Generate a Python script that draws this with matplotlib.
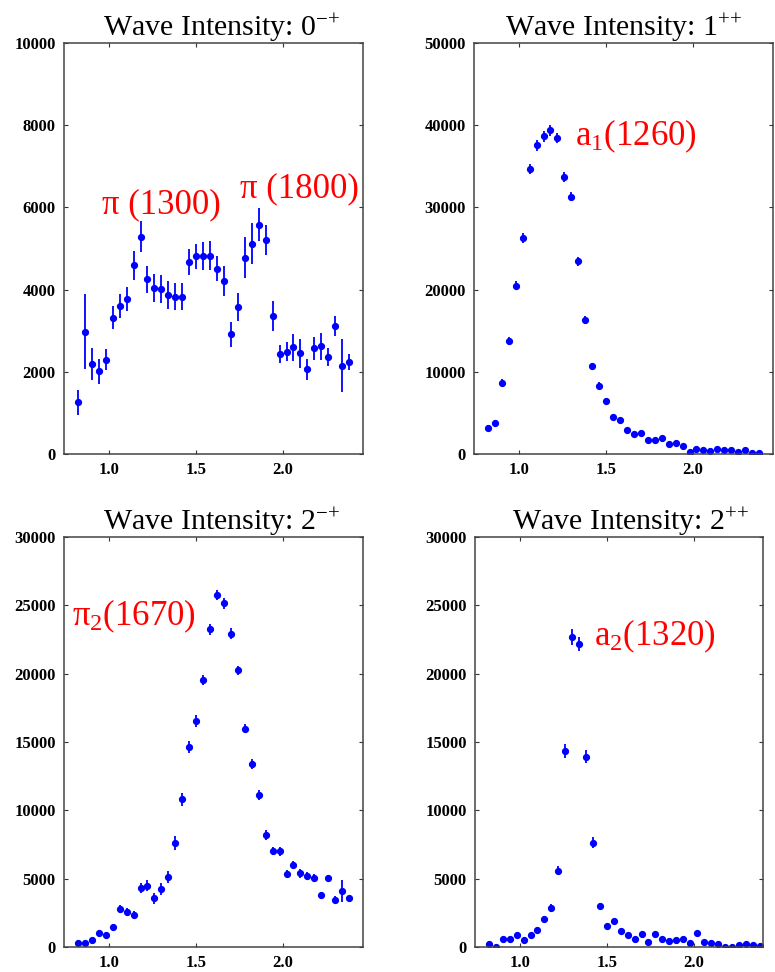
import matplotlib as mpl
mpl.use('Agg')
from matplotlib import pyplot as plt

mpl.rcParams['font.family'] = ['Liberation Serif', 'DejaVu Serif']
mpl.rcParams['mathtext.default'] = 'regular'

# bin centres (GeV)
mass = [0.82, 0.86, 0.90, 0.94, 0.98, 1.02, 1.06, 1.10, 1.14, 1.18,
        1.22, 1.26, 1.30, 1.34, 1.38, 1.42, 1.46, 1.50, 1.54, 1.58,
        1.62, 1.66, 1.70, 1.74, 1.78, 1.82, 1.86, 1.90, 1.94, 1.98,
        2.02, 2.06, 2.10, 2.14, 2.18, 2.22, 2.26, 2.30, 2.34, 2.38]

# 0-+
int_0mp = [1260, 2980, 2190, 2010, 2300, 3320, 3600, 3770, 4590, 5290,
           4250, 4040, 4020, 3870, 3830, 3830, 4680, 4810, 4810, 4830,
           4510, 4210, 2910, 3570, 4780, 5120, 5580, 5210, 3360, 2430,
           2490, 2600, 2450, 2060, 2570, 2620, 2360, 3110, 2150, 2240]
err_0mp = [310, 910, 400, 310, 250, 275, 300, 290, 345, 385,
           330, 345, 345, 345, 325, 320, 320, 310, 340, 360,
           305, 365, 310, 340, 500, 505, 395, 370, 370, 220,
           235, 325, 345, 260, 270, 325, 230, 245, 640, 205]

# 1++
int_1pp = [3130, 3740, 8660, 13740, 20450, 26300, 34670, 37560, 38660, 39390,
           38410, 33740, 31300, 23450, 16300, 10650, 8330, 6420, 4510, 4110,
           2930, 2480, 2600, 1670, 1670, 1950, 1220, 1340, 1020, 200,
           610, 490, 410, 610, 530, 490, 240, 490, 160, 160]
err_1pp = [350, 400, 450, 500, 550, 600, 650, 700, 700, 650,
           600, 600, 550, 550, 500, 450, 400, 350, 300, 300,
           250, 250, 250, 200, 200, 200, 200, 200, 200, 150,
           150, 150, 150, 150, 150, 150, 150, 150, 150, 150]

# 2-+
int_2mp = [270, 320, 540, 1050, 900, 1440, 2780, 2560, 2370, 4320,
           4490, 3560, 4240, 5120, 7630, 10800, 14630, 16540, 19540, 23240,
           25760, 25150, 22930, 20240, 15980, 13410, 11120, 8200, 7000, 7000,
           5320, 6020, 5390, 5200, 5050, 3780, 5050, 3460, 4120, 3560]
err_2mp = [150, 150, 150, 200, 200, 250, 300, 300, 300, 400,
           400, 400, 450, 450, 500, 500, 450, 450, 400, 400,
           400, 400, 400, 350, 350, 350, 350, 350, 300, 350,
           300, 300, 350, 300, 300, 250, 250, 250, 800, 200]

# 2++
int_2pp = [220, 30, 590, 590, 900, 510, 900, 1220, 2050, 2880,
           5590, 14320, 22680, 22170, 13930, 7630, 3000, 1540, 1900, 1170,
           850, 590, 950, 390, 950, 590, 460, 510, 590, 320,
           1020, 390, 320, 200, 30, 30, 150, 200, 150, 70]
err_2pp = [100, 100, 150, 150, 150, 150, 150, 200, 250, 300,
           350, 500, 600, 500, 450, 400, 200, 150, 150, 150,
           150, 150, 150, 150, 150, 150, 150, 150, 150, 100,
           100, 100, 100, 100, 100, 100, 100, 100, 100, 100]

titles = [r'Wave Intensity: 0$^{-{+}}$', r'Wave Intensity: 1$^{+{+}}$',
          r'Wave Intensity: 2$^{-{+}}$', r'Wave Intensity: 2$^{+{+}}$']
title_x = [0.527, 0.5, 0.527, 0.54]
ymax = [10000, 50000, 30000, 30000]
ystep = [2000, 10000, 5000, 5000]
xmax = [2.46, 2.46, 2.46, 2.40]

# [left, bottom, width, height] in figure fraction
boxes = [[0.0826, 0.5329, 0.3858, 0.4228],
         [0.6116, 0.5329, 0.3858, 0.4228],
         [0.0826, 0.0257, 0.3858, 0.4218],
         [0.6129, 0.0257, 0.3716, 0.4218]]

# resonance labels: (text, x, y) in data coords
labels = [[('π (1300)', 0.96, 5860), ('π (1800)', 1.75, 6250)],
          [(r'a$_1$(1260)', 1.32, 37560)],
          [(r'π$_2$(1670)', 0.786, 23560)],
          [(r'a$_2$(1320)', 1.425, 22090)]]

data = [(int_0mp, err_0mp), (int_1pp, err_1pp), (int_2mp, err_2mp), (int_2pp, err_2pp)]

fig = plt.figure(figsize=(7.75, 9.72), dpi=100)

for i in range(4):
    ax = fig.add_axes(boxes[i])
    vals, errs = data[i]
    ax.errorbar(mass, vals, yerr=errs, fmt='o', color='blue', ms=4.2,
                elinewidth=1.3, capsize=0)
    ax.set_xlim(0.74, xmax[i])
    ax.set_ylim(0, ymax[i])
    ax.set_xticks([1.0, 1.5, 2.0])
    ax.set_xticklabels(['1.0', '1.5', '2.0'])
    ax.set_yticks(list(range(0, ymax[i] + 1, ystep[i])))
    ax.tick_params(direction='in', top=True, right=True, length=3, width=0.8,
                   labelsize=12, pad=6, colors='#333333', labelcolor='black')
    for lab in ax.get_xticklabels() + ax.get_yticklabels():
        lab.set_fontweight('bold')
    for sp in ax.spines.values():
        sp.set_color('#444444')
        sp.set_linewidth(1.1)
    ax.set_title(titles[i], fontsize=21.5, pad=5, x=title_x[i])
    for txt, x, y in labels[i]:
        ax.text(x, y, txt, color='red', fontsize=25, va='baseline', ha='left')

plt.savefig('out.png', dpi=100)
